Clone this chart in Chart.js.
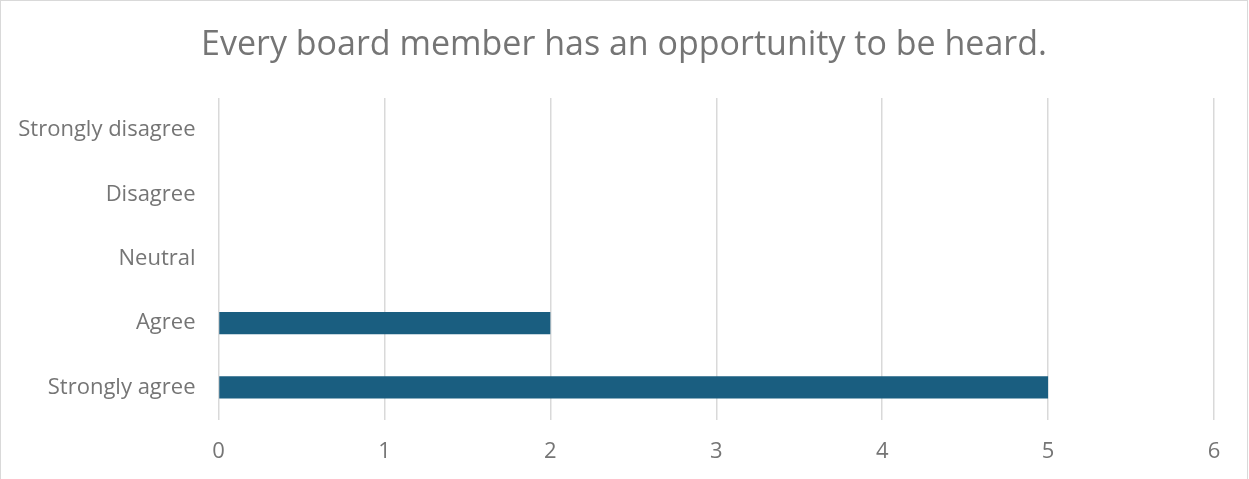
<!DOCTYPE html>
<html>
<head>
<meta charset="utf-8">
<script src="https://cdn.jsdelivr.net/npm/chart.js@4/dist/chart.umd.min.js"></script>
<style>
    html, body { margin: 0; padding: 0; background: #fff; overflow: hidden; }
    #frame {
        width: 1246px;
        height: 490px;
        border: 1.5px solid #d9d9d9;
        position: relative;
    }
    #wrap { position: absolute; left: 0; top: 0; width: 1246px; height: 490px; }
</style>
</head>
<body>
<div id="frame">
    <div id="wrap"><canvas id="surveyChart"></canvas></div>
</div>
<script>
// Survey answers, listed top to bottom as shown
const categories = ['Strongly disagree', 'Disagree', 'Neutral', 'Agree', 'Strongly agree'];
const responseCounts = [0, 0, 0, 2, 5];
const axisMin = 0;
const axisMax = 6;

const chartTitle = 'Every board member has an opportunity to be heard.';
const textGray = '#757575';
const gridGray = '#d9d9d9';
const barBlue = '#1a5e80';

// title centred on the whole canvas, not on the padded layout box
const centredTitle = {
    id: 'centredTitle',
    afterDraw(chart) {
        const c = chart.ctx;
        c.save();
        c.font = '34px "Open Sans"';
        c.fillStyle = textGray;
        c.textAlign = 'center';
        c.textBaseline = 'alphabetic';
        c.fillText(chartTitle, chart.width / 2, 54);
        c.restore();
    }
};

const ctx = document.getElementById('surveyChart').getContext('2d');
const surveyChart = new Chart(ctx, {
    type: 'bar',
    data: {
        labels: categories,
        datasets: [{
            label: 'Responses',
            data: responseCounts,
            backgroundColor: barBlue,
            borderWidth: 0,
            barPercentage: 0.345,
            categoryPercentage: 1.0
        }]
    },
    plugins: [centredTitle],
    options: {
        indexAxis: 'y',
        responsive: true,
        maintainAspectRatio: false,
        animation: false,
        layout: { padding: { left: 16, right: 33, top: 97, bottom: 7 } },
        plugins: {
            legend: { display: false },
            tooltip: { enabled: false },
            title: { display: false }
        },
        scales: {
            x: {
                min: axisMin,
                max: axisMax,
                ticks: {
                    stepSize: 1,
                    color: textGray,
                    font: { family: 'Open Sans', size: 22 },
                    padding: 19
                },
                grid: { color: gridGray, lineWidth: 1.5, drawTicks: false },
                border: { display: false }
            },
            y: {
                afterFit: (axis) => { axis.width = 201.5; },
                ticks: {
                    color: textGray,
                    font: { family: 'Open Sans', size: 22 },
                    padding: 23
                },
                grid: { display: false, drawTicks: false },
                border: { display: false }
            }
        }
    }
});
</script>
</body>
</html>
